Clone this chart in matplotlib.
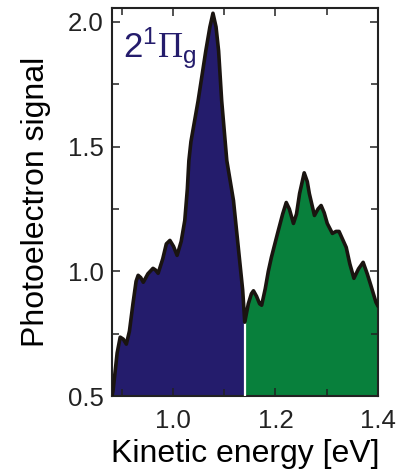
import matplotlib
matplotlib.use("Agg")
import matplotlib.pyplot as plt
import numpy as np

plt.rcParams['font.family'] = ['Liberation Sans', 'DejaVu Sans']
plt.rcParams['mathtext.fontset'] = 'custom'
plt.rcParams['mathtext.rm'] = 'Liberation Serif'
plt.rcParams['mathtext.sf'] = 'Liberation Sans'
plt.rcParams['mathtext.it'] = 'Liberation Sans'

# Kinetic energy [eV] and photoelectron signal
energy = [0.881, 0.883, 0.891, 0.897, 0.903, 0.909, 0.915, 0.922, 0.928, 0.932,
          0.937, 0.942, 0.951, 0.961, 0.966, 0.971, 0.980, 0.987, 0.994, 1.001,
          1.008, 1.016, 1.023, 1.028, 1.031, 1.035, 1.049, 1.064, 1.072, 1.078,
          1.084, 1.089, 1.095, 1.105, 1.118, 1.128, 1.136, 1.140,
          1.147, 1.153, 1.157, 1.163, 1.169, 1.173, 1.180, 1.186, 1.192, 1.204,
          1.214, 1.221, 1.227, 1.235, 1.241, 1.247, 1.256, 1.262, 1.266, 1.276,
          1.283, 1.289, 1.295, 1.301, 1.311, 1.318, 1.324, 1.338, 1.345, 1.353,
          1.362, 1.371, 1.379, 1.386, 1.396, 1.400]
signal = [0.50, 0.52, 0.672, 0.736, 0.728, 0.708, 0.76, 0.872, 0.96, 0.984,
          0.975, 0.956, 0.99, 1.012, 1.005, 0.992, 1.05, 1.11, 1.124, 1.10,
          1.064, 1.12, 1.204, 1.33, 1.444, 1.52, 1.684, 1.884, 1.98, 2.035,
          1.98, 1.884, 1.684, 1.444, 1.284, 1.084, 0.924, 0.796,
          0.87, 0.91, 0.922, 0.90, 0.87, 0.864, 0.93, 1.00, 1.056, 1.152,
          1.23, 1.276, 1.25, 1.192, 1.23, 1.312, 1.395, 1.36, 1.312, 1.224,
          1.25, 1.264, 1.235, 1.192, 1.152, 1.16, 1.16, 1.096, 1.03, 0.972,
          1.01, 1.036, 0.99, 0.944, 0.876, 0.86]
split_energy = 1.140
xticks = [1.0, 1.2, 1.4]
yticks = [0.5, 1.0, 1.5, 2.0]
state_label = r'$\mathsf{2}^{\mathsf{1}}\mathrm{\Pi}_{\mathsf{g}}$'

blue = '#241C6C'
green = '#08803C'

e = np.array(energy)
s = np.array(signal)

fig = plt.figure(figsize=(4.01, 4.76), dpi=100)
ax = fig.add_axes([112/401, 80/476, 266/401, 388/476])

ymin = 0.5
ax.fill_between(e, ymin, s, where=e <= split_energy, color=blue, lw=0, interpolate=True)
ax.fill_between(e, ymin, s, where=e >= split_energy, color=green, lw=0, interpolate=True)
ax.vlines(split_energy, ymin, np.interp(split_energy, e, s), color='white', lw=1.6, zorder=3)
ax.plot(e, s, color='#1a1410', lw=2.6, solid_joinstyle='round', solid_capstyle='round', zorder=4)

ax.set_xlim(0.881, 1.40)
ax.set_ylim(0.5, 2.056)
ax.set_xticks(xticks)
ax.set_xticklabels(['%.1f' % v for v in xticks])
ax.set_yticks(yticks)
ax.set_yticklabels(['%.1f' % v for v in yticks])
ax.set_xticks(np.arange(0.9, 1.41, 0.1), minor=True)
ax.set_yticks(np.arange(0.5, 2.01, 0.25), minor=True)
ax.tick_params(which='both', direction='in', top=True, right=True, width=1.1, colors='#222222')
ax.tick_params(which='major', length=5.5, labelsize=18.5, pad=6)
ax.tick_params(which='minor', length=5)
ax.tick_params(axis='x', which='major', pad=9)
for sp in ax.spines.values():
    sp.set_linewidth(1.5)
    sp.set_color('#222222')

ax.set_xlabel('Kinetic energy [eV]', fontsize=23, labelpad=5)
ax.set_ylabel('Photoelectron signal', fontsize=23, labelpad=12)

ax.text(0.04, 0.955, state_label, transform=ax.transAxes, color=blue,
        fontsize=25, ha='left', va='top')

fig.savefig('out.png', dpi=100)
